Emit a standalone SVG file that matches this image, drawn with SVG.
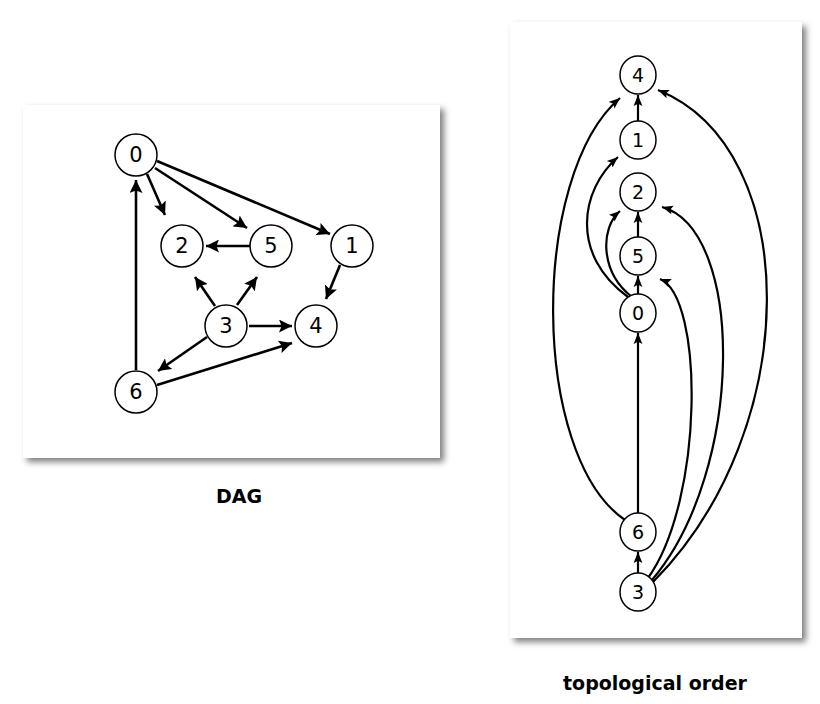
<svg xmlns="http://www.w3.org/2000/svg" width="820" height="704" viewBox="0 0 820 704">
<defs>
<filter id="sh" x="-10%" y="-10%" width="125%" height="125%"><feDropShadow dx="4" dy="4" stdDeviation="3" flood-color="#000" flood-opacity="0.5"/></filter>
<marker id="a" viewBox="0 0 10 10" refX="10" refY="5" markerWidth="5" markerHeight="5" orient="auto" markerUnits="strokeWidth"><path d="M0,0 L10,5 L0,10 L2,5 z" fill="#000"/></marker>
<marker id="b" viewBox="0 0 10 10" refX="10" refY="5" markerWidth="5" markerHeight="5" orient="auto" markerUnits="strokeWidth"><path d="M0,1 L10,5 L0,9 L2,5 z" fill="#000"/></marker>
</defs>
<style>
.n{fill:#fff;stroke:#000;stroke-width:1.5}
.t{font-family:"DejaVu Sans",sans-serif;text-anchor:middle;dominant-baseline:central;fill:#000}
.L{font-size:21px}
.R{font-size:19px}
.e1{stroke:#000;stroke-width:2.6;fill:none;marker-end:url(#a)}
.e2{stroke:#000;stroke-width:2.2;fill:none;marker-end:url(#b)}
.cap{font-family:"DejaVu Sans",sans-serif;font-weight:bold;font-size:19px;text-anchor:middle;fill:#000}
</style>
<rect width="820" height="704" fill="#fff"/>
<rect x="23" y="105" width="417" height="353" fill="#fff" filter="url(#sh)"/>
<rect x="510" y="22" width="292" height="616" fill="#fff" filter="url(#sh)"/>
<g id="edges">
<line class="e1" x1="157" y1="161" x2="330" y2="234"/>
<line class="e1" x1="147" y1="174" x2="165" y2="215"/>
<line class="e1" x1="155" y1="168" x2="247" y2="228"/>
<line class="e1" x1="250" y1="246" x2="206" y2="246"/>
<line class="e1" x1="340" y1="265" x2="326" y2="299"/>
<line class="e1" x1="215" y1="306" x2="195" y2="277"/>
<line class="e1" x1="237" y1="305" x2="257" y2="277"/>
<line class="e1" x1="249" y1="326" x2="292" y2="326"/>
<line class="e1" x1="207" y1="337" x2="158" y2="371"/>
<line class="e1" x1="157" y1="385" x2="292" y2="343"/>
<line class="e1" x1="136" y1="370" x2="136" y2="180"/>
<line class="e2" x1="638" y1="121" x2="638" y2="95"/>
<line class="e2" x1="638" y1="237" x2="638" y2="212"/>
<line class="e2" x1="638" y1="294" x2="638" y2="276"/>
<line class="e2" x1="638" y1="513" x2="638" y2="333"/>
<line class="e2" x1="638" y1="573" x2="638" y2="552"/>
<path class="e2" d="M625,520 C530,455 530,175 620,98"/>
<path class="e2" d="M628,297 C570,255 580,190 618,157"/>
<path class="e2" d="M632,297 C600,272 600,228 620,211"/>
<path class="e2" d="M648,578 C704,500 704,297 660,279"/>
<path class="e2" d="M652,580 C745,470 745,230 662,207"/>
<path class="e2" d="M653,582 C804,430 804,149 658,90"/>
</g>
<g id="n0"><circle class="n" cx="136" cy="155" r="21"/><text class="t L" x="136" y="155">0</text></g>
<g id="n2"><circle class="n" cx="182" cy="246" r="21"/><text class="t L" x="182" y="246">2</text></g>
<g id="n5"><circle class="n" cx="271" cy="246" r="21"/><text class="t L" x="271" y="246">5</text></g>
<g id="n1"><circle class="n" cx="352" cy="246" r="21"/><text class="t L" x="352" y="246">1</text></g>
<g id="n3"><circle class="n" cx="226" cy="326" r="21"/><text class="t L" x="226" y="326">3</text></g>
<g id="n4"><circle class="n" cx="316" cy="326" r="21"/><text class="t L" x="316" y="326">4</text></g>
<g id="n6"><circle class="n" cx="136" cy="392" r="21"/><text class="t L" x="136" y="392">6</text></g>
<g id="r4"><ellipse class="n" cx="638" cy="75" rx="18" ry="19"/><text class="t R" x="638" y="75">4</text></g>
<g id="r1"><ellipse class="n" cx="638" cy="140" rx="18" ry="19"/><text class="t R" x="638" y="140">1</text></g>
<g id="r2"><ellipse class="n" cx="638" cy="192" rx="18" ry="19"/><text class="t R" x="638" y="192">2</text></g>
<g id="r5"><ellipse class="n" cx="638" cy="256" rx="18" ry="19"/><text class="t R" x="638" y="256">5</text></g>
<g id="r0"><ellipse class="n" cx="638" cy="313" rx="18" ry="19"/><text class="t R" x="638" y="313">0</text></g>
<g id="r6"><ellipse class="n" cx="638" cy="532" rx="18" ry="19"/><text class="t R" x="638" y="532">6</text></g>
<g id="r3"><ellipse class="n" cx="638" cy="592" rx="18" ry="19"/><text class="t R" x="638" y="592">3</text></g>
<text class="cap" x="239" y="503">DAG</text>
<text class="cap" x="655" y="690">topological order</text>
</svg>
